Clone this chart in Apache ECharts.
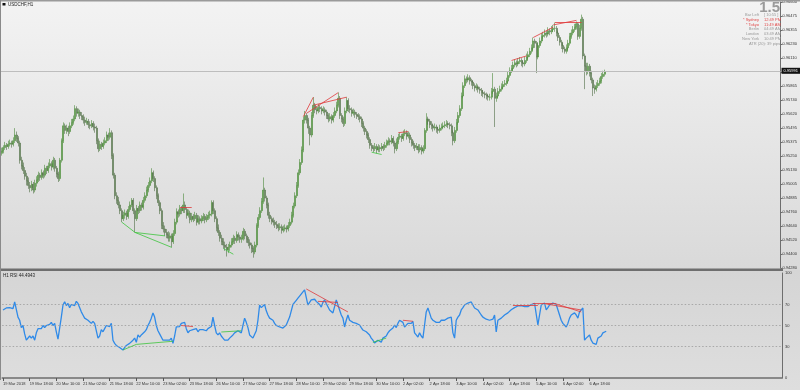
<!DOCTYPE html>
<html><head><meta charset="utf-8">
<script src="https://cdn.jsdelivr.net/npm/echarts@6/dist/echarts.min.js"></script>
<style>html,body{margin:0;padding:0;background:#e4e4e4}#c{width:800px;height:390px}</style>
</head><body><div id="c"></div><script>
const symbolName = 'USDCHF,H1';
const rsiName = 'H1 RSI 44.4943';
const spreadText = '1.5';
const infoRows = [['Bar Left','[ 10:55 ]'],['* Sydney','12:49 PM'],['* Tokyo','11:49 AM'],['Berlin','04:49 AM'],['London','03:49 AM'],['New York','10:49 PM']];
const atrText = 'ATR (20): 39 pips';
const currentPrice = 0.95991;
const firstOpen = 0.9528;
const closes = [
0.9530,0.9533,0.9535,0.9534,0.9536,0.9537,0.9536,0.9539,0.9544,0.9541,
0.9537,0.9522,0.9517,0.9513,0.9508,0.9504,0.9500,0.9498,0.9501,0.9496,
0.9502,0.9505,0.9509,0.9507,0.9511,0.9509,0.9515,0.9513,0.9517,0.9519,
0.9516,0.9522,0.9515,0.9510,0.9506,0.9522,0.9539,0.9552,0.9548,0.9550,
0.9547,0.9552,0.9555,0.9558,0.9567,0.9563,0.9564,0.9561,0.9560,0.9557,
0.9555,0.9556,0.9553,0.9552,0.9554,0.9551,0.9550,0.9539,0.9532,0.9536,
0.9534,0.9537,0.9539,0.9544,0.9542,0.9546,0.9526,0.9509,0.9491,0.9487,
0.9483,0.9478,0.9471,0.9474,0.9476,0.9473,0.9479,0.9483,0.9487,0.9478,
0.9471,0.9480,0.9478,0.9483,0.9481,0.9487,0.9491,0.9496,0.9500,0.9504,
0.9511,0.9506,0.9498,0.9491,0.9485,0.9478,0.9465,0.9462,0.9459,0.9457,
0.9454,0.9456,0.9451,0.9458,0.9468,0.9477,0.9475,0.9480,0.9478,0.9483,
0.9479,0.9474,0.9476,0.9470,0.9473,0.9471,0.9474,0.9468,0.9471,0.9469,
0.9471,0.9473,0.9470,0.9472,0.9474,0.9475,0.9485,0.9478,0.9471,0.9463,
0.9459,0.9454,0.9451,0.9448,0.9446,0.9444,0.9446,0.9448,0.9451,0.9454,
0.9452,0.9457,0.9455,0.9453,0.9454,0.9460,0.9456,0.9453,0.9450,0.9448,
0.9445,0.9442,0.9448,0.9465,0.9472,0.9478,0.9486,0.9496,0.9489,0.9483,
0.9474,0.9471,0.9469,0.9468,0.9466,0.9465,0.9463,0.9464,0.9461,0.9462,
0.9463,0.9462,0.9465,0.9468,0.9474,0.9482,0.9491,0.9500,0.9511,0.9520,
0.9531,0.9557,0.9561,0.9557,0.9550,0.9544,0.9561,0.9570,0.9566,0.9565,
0.9568,0.9567,0.9565,0.9566,0.9564,0.9561,0.9558,0.9560,0.9557,0.9561,
0.9565,0.9570,0.9576,0.9561,0.9558,0.9554,0.9565,0.9574,0.9567,0.9566,
0.9563,0.9564,0.9562,0.9561,0.9560,0.9558,0.9554,0.9550,0.9547,0.9544,
0.9540,0.9535,0.9533,0.9532,0.9534,0.9531,0.9533,0.9532,0.9534,0.9533,
0.9535,0.9537,0.9539,0.9538,0.9541,0.9537,0.9532,0.9538,0.9542,0.9543,
0.9541,0.9545,0.9546,0.9543,0.9544,0.9540,0.9537,0.9535,0.9533,0.9534,
0.9531,0.9533,0.9530,0.9532,0.9548,0.9558,0.9556,0.9553,0.9552,0.9550,
0.9551,0.9549,0.9548,0.9550,0.9551,0.9552,0.9553,0.9554,0.9553,0.9552,
0.9546,0.9539,0.9548,0.9555,0.9561,0.9567,0.9578,0.9587,0.9593,0.9592,
0.9594,0.9591,0.9590,0.9587,0.9585,0.9586,0.9584,0.9583,0.9581,0.9580,
0.9579,0.9578,0.9577,0.9577,0.9582,0.9584,0.9576,0.9578,0.9582,0.9584,
0.9586,0.9588,0.9589,0.9591,0.9596,0.9600,0.9602,0.9605,0.9607,0.9606,
0.9608,0.9609,0.9607,0.9606,0.9609,0.9612,0.9614,0.9617,0.9620,0.9626,
0.9624,0.9612,0.9622,0.9626,0.9630,0.9631,0.9633,0.9632,0.9635,0.9634,
0.9636,0.9637,0.9637,0.9633,0.9629,0.9625,0.9622,0.9619,0.9617,0.9620,
0.9624,0.9630,0.9633,0.9636,0.9638,0.9641,0.9630,0.9637,0.9645,0.9613,
0.9604,0.9600,0.9604,0.9598,0.9592,0.9585,0.9584,0.9587,0.9589,0.9591,
0.9595,0.9597,0.9599];
const highs = [
0.9533,0.9535,0.9538,0.9537,0.9539,0.9540,0.9539,0.9542,0.9550,0.9547,
0.9543,0.9539,0.9525,0.9520,0.9516,0.9511,0.9507,0.9503,0.9504,0.9503,
0.9505,0.9508,0.9512,0.9511,0.9514,0.9513,0.9518,0.9517,0.9520,0.9523,
0.9521,0.9525,0.9524,0.9517,0.9512,0.9524,0.9541,0.9555,0.9554,0.9553,
0.9552,0.9555,0.9558,0.9561,0.9570,0.9569,0.9567,0.9566,0.9564,0.9562,
0.9560,0.9559,0.9558,0.9556,0.9557,0.9556,0.9554,0.9552,0.9541,0.9539,
0.9538,0.9540,0.9542,0.9547,0.9546,0.9550,0.9548,0.9528,0.9511,0.9494,
0.9490,0.9486,0.9480,0.9477,0.9479,0.9478,0.9482,0.9486,0.9489,0.9489,
0.9480,0.9483,0.9482,0.9486,0.9485,0.9490,0.9494,0.9499,0.9503,0.9507,
0.9515,0.9513,0.9508,0.9500,0.9493,0.9487,0.9480,0.9468,0.9465,0.9462,
0.9460,0.9459,0.9458,0.9461,0.9471,0.9480,0.9479,0.9483,0.9482,0.9493,
0.9486,0.9481,0.9479,0.9478,0.9476,0.9475,0.9477,0.9476,0.9474,0.9473,
0.9474,0.9476,0.9475,0.9475,0.9477,0.9478,0.9487,0.9487,0.9480,0.9473,
0.9466,0.9461,0.9457,0.9454,0.9451,0.9449,0.9449,0.9451,0.9454,0.9457,
0.9456,0.9460,0.9459,0.9457,0.9457,0.9463,0.9462,0.9458,0.9455,0.9453,
0.9450,0.9447,0.9451,0.9467,0.9475,0.9481,0.9489,0.9507,0.9498,0.9491,
0.9485,0.9477,0.9473,0.9472,0.9470,0.9469,0.9467,0.9467,0.9466,0.9465,
0.9466,0.9465,0.9468,0.9471,0.9477,0.9485,0.9494,0.9503,0.9514,0.9523,
0.9534,0.9560,0.9565,0.9563,0.9559,0.9552,0.9564,0.9577,0.9572,0.9569,
0.9571,0.9570,0.9569,0.9569,0.9568,0.9566,0.9563,0.9563,0.9562,0.9564,
0.9568,0.9573,0.9581,0.9578,0.9563,0.9560,0.9568,0.9577,0.9576,0.9570,
0.9568,0.9567,0.9566,0.9564,0.9563,0.9562,0.9560,0.9556,0.9552,0.9549,
0.9546,0.9542,0.9537,0.9535,0.9537,0.9536,0.9536,0.9535,0.9537,0.9536,
0.9538,0.9540,0.9542,0.9541,0.9544,0.9543,0.9539,0.9541,0.9545,0.9546,
0.9545,0.9548,0.9549,0.9548,0.9547,0.9546,0.9542,0.9539,0.9537,0.9537,
0.9536,0.9536,0.9535,0.9535,0.9550,0.9563,0.9560,0.9558,0.9556,0.9554,
0.9554,0.9553,0.9551,0.9553,0.9554,0.9555,0.9556,0.9557,0.9556,0.9555,
0.9554,0.9548,0.9551,0.9558,0.9564,0.9570,0.9581,0.9590,0.9596,0.9595,
0.9597,0.9596,0.9593,0.9592,0.9589,0.9589,0.9588,0.9586,0.9585,0.9583,
0.9582,0.9581,0.9580,0.9580,0.9585,0.9598,0.9586,0.9581,0.9585,0.9587,
0.9589,0.9591,0.9592,0.9594,0.9599,0.9603,0.9605,0.9608,0.9610,0.9609,
0.9611,0.9612,0.9611,0.9609,0.9612,0.9615,0.9617,0.9620,0.9623,0.9629,
0.9628,0.9626,0.9625,0.9629,0.9633,0.9634,0.9636,0.9635,0.9638,0.9637,
0.9639,0.9640,0.9642,0.9639,0.9635,0.9631,0.9627,0.9624,0.9621,0.9623,
0.9627,0.9633,0.9636,0.9639,0.9641,0.9643,0.9642,0.9640,0.9649,0.9647,
0.9615,0.9607,0.9607,0.9606,0.9600,0.9594,0.9588,0.9590,0.9592,0.9594,
0.9598,0.9600,0.9601];
const lows = [
0.9526,0.9528,0.9531,0.9531,0.9532,0.9534,0.9533,0.9534,0.9537,0.9538,
0.9534,0.9519,0.9514,0.9510,0.9505,0.9500,0.9497,0.9494,0.9495,0.9493,
0.9494,0.9499,0.9503,0.9504,0.9505,0.9506,0.9507,0.9510,0.9511,0.9515,
0.9513,0.9514,0.9512,0.9507,0.9503,0.9504,0.9520,0.9537,0.9545,0.9545,
0.9543,0.9545,0.9550,0.9553,0.9556,0.9560,0.9560,0.9558,0.9557,0.9554,
0.9552,0.9553,0.9550,0.9549,0.9550,0.9548,0.9546,0.9536,0.9529,0.9530,
0.9531,0.9532,0.9535,0.9537,0.9539,0.9540,0.9523,0.9506,0.9488,0.9484,
0.9480,0.9475,0.9468,0.9469,0.9471,0.9470,0.9471,0.9477,0.9481,0.9475,
0.9459,0.9469,0.9475,0.9476,0.9478,0.9479,0.9485,0.9489,0.9494,0.9498,
0.9502,0.9503,0.9495,0.9488,0.9482,0.9475,0.9462,0.9459,0.9456,0.9454,
0.9451,0.9451,0.9446,0.9449,0.9456,0.9466,0.9472,0.9473,0.9475,0.9476,
0.9476,0.9471,0.9472,0.9467,0.9468,0.9468,0.9469,0.9465,0.9466,0.9466,
0.9467,0.9469,0.9467,0.9468,0.9470,0.9471,0.9473,0.9475,0.9468,0.9460,
0.9456,0.9451,0.9448,0.9445,0.9443,0.9438,0.9441,0.9443,0.9446,0.9449,
0.9449,0.9450,0.9452,0.9450,0.9450,0.9452,0.9453,0.9450,0.9447,0.9445,
0.9441,0.9437,0.9440,0.9446,0.9463,0.9470,0.9476,0.9484,0.9486,0.9480,
0.9471,0.9468,0.9466,0.9465,0.9463,0.9462,0.9460,0.9461,0.9458,0.9459,
0.9460,0.9459,0.9460,0.9463,0.9466,0.9472,0.9480,0.9489,0.9498,0.9509,
0.9518,0.9529,0.9554,0.9554,0.9545,0.9535,0.9542,0.9559,0.9563,0.9562,
0.9563,0.9564,0.9562,0.9563,0.9561,0.9558,0.9555,0.9556,0.9554,0.9555,
0.9559,0.9563,0.9568,0.9558,0.9555,0.9551,0.9552,0.9563,0.9564,0.9563,
0.9560,0.9561,0.9559,0.9558,0.9557,0.9555,0.9551,0.9547,0.9544,0.9541,
0.9537,0.9532,0.9530,0.9529,0.9530,0.9528,0.9529,0.9529,0.9530,0.9530,
0.9531,0.9533,0.9535,0.9535,0.9536,0.9534,0.9528,0.9530,0.9536,0.9540,
0.9538,0.9539,0.9543,0.9540,0.9541,0.9537,0.9534,0.9532,0.9530,0.9531,
0.9528,0.9529,0.9527,0.9528,0.9530,0.9546,0.9553,0.9550,0.9549,0.9547,
0.9548,0.9546,0.9545,0.9546,0.9548,0.9549,0.9550,0.9551,0.9550,0.9549,
0.9543,0.9535,0.9537,0.9546,0.9553,0.9559,0.9565,0.9576,0.9585,0.9589,
0.9590,0.9588,0.9587,0.9584,0.9582,0.9583,0.9581,0.9580,0.9578,0.9577,
0.9576,0.9575,0.9574,0.9574,0.9575,0.9580,0.9551,0.9573,0.9576,0.9580,
0.9582,0.9584,0.9586,0.9587,0.9589,0.9594,0.9598,0.9600,0.9603,0.9603,
0.9604,0.9606,0.9604,0.9603,0.9604,0.9607,0.9610,0.9612,0.9615,0.9618,
0.9620,0.9598,0.9610,0.9620,0.9624,0.9628,0.9629,0.9629,0.9630,0.9631,
0.9632,0.9634,0.9634,0.9630,0.9626,0.9622,0.9619,0.9616,0.9615,0.9615,
0.9618,0.9622,0.9628,0.9631,0.9634,0.9636,0.9627,0.9628,0.9635,0.9610,
0.9584,0.9596,0.9597,0.9595,0.9589,0.9578,0.9580,0.9582,0.9585,0.9587,
0.9589,0.9593,0.9595];
const rsi = [
64.8,66,66.7,65.5,67,67.6,66,72.4,73.5,58,
55,48,50,42,36,37,40,38,40,36,
43,47,48,47,50,48,50,49,51,53,
50,52,44,37,36,58,69.5,72.5,69,71,
67,70,71,69,73,71,70,63,60,57,
56,55,54,52,54,52,53,38,40,46,
44,47,50,51,49,52,36,33,31,30,
29,28.6,26.7,29,31,30,33,34,36,38,
34,41,39,41,40,44,46,50,53,57,
62,58,50,45,42,41,36,37,36,37,
36,38,33,40,48.6,50,49,52,51,53,
47,43,45,44,46,45,47,44,46,45,
46,47,45,47,48,49,58,50,43,41,
43,40,38,36,37,36,38,39,41,43,
42,45,44,43,50,57,53,48,41,40,
38,38,45,55,69.5,67,67.6,70,64,60,
57,56,55,52,50,49,48.6,49,47.6,49,
50.5,52,58,64,70,72,74,76,78,79,
82,84,84.8,69.5,72,74.3,76,75,73,71.4,
70,67.6,72,74.3,71,69.5,64.8,63,62,68,
74.3,69.5,64.8,60,57,48.6,55,60,55,54,
53,52,52,51,50.5,48,45.7,45,44,43.8,
41,38,36,33.3,35,36,35,34,38,37,
40,43,45,44,47.6,50.5,48,52,55,54,
53,48.6,50,52,53,52,54,43,41,39,
43,40,38,50.5,62.9,66.7,62,57,55,54,
53,54,53,55,54,55,55,57,57.5,58,
43,38,55,58,60,64.8,67,69.5,71,71.4,
72,72.4,71,66.7,65,64.8,63,60,58,57,
56,57,55,55,56,60,43.8,55,56,57,
58,60,61,62,63,65,66.7,67,68,68.6,
68,69,69.5,68,67.6,68,69,70,70.5,71,
71.4,50.5,60,69.5,70,71.4,64.8,67,69.5,70,
71.4,71.4,70,65,60,55,52,50.5,48.6,52,
57,60,60,62,60,57,62.9,64,66.7,36,
38,39,41,36,33.3,31.4,32,38,39,40,
43,44,44.5];
const priceTicks = ['0.94280','0.94400','0.94520','0.94640','0.94760','0.94885','0.95005','0.95130','0.95250','0.95375','0.95495','0.95620','0.95740','0.95865','0.95985','0.96110','0.96230','0.96355','0.96475','0.96600'];
const priceMin = 0.9428, priceMax = 0.9660;
const timeTicks = ['19 Mar 2018','19 Mar 18:00','20 Mar 10:00','21 Mar 02:00','21 Mar 18:00','22 Mar 10:00','23 Mar 02:00','23 Mar 18:00','26 Mar 10:00','27 Mar 02:00','27 Mar 18:00','28 Mar 10:00','29 Mar 02:00','29 Mar 18:00','30 Mar 10:00','2 Apr 02:00','2 Apr 18:00','3 Apr 10:00','4 Apr 02:00','4 Apr 18:00','5 Apr 10:00','6 Apr 02:00','6 Apr 18:00'];
const barsPerLabel = 16;
const totalSlots = 468;
const rsiLevels = [70, 50, 30];
const rsiAxisLabels = [0, 30, 50, 70, 100];
// divergence segments: [barFrom, valueFrom, barTo, valueTo]
const priceDivRed = [[107,0.9481,114,0.9481],[181,0.9560,187,0.9577],[183,0.9563,202,0.9581],[187,0.9570,207,0.9577],[238,0.9546,244,0.9547],[306,0.9609,315,0.9613],[319,0.9629,331,0.9638],[331,0.9640,345,0.9644],[332,0.9642,348,0.9642]];
const priceDivGreen = [[72,0.9468,80,0.9459],[80,0.9459,98,0.9456],[80,0.9459,102,0.9446],[133,0.9445,139,0.9440],[222,0.9529,228,0.9527]];
const rsiDivRed = [[107,50,114,49],[182,84.8,207,62.9],[189,73,201,72],[240,55,246,54],[306,69.5,321,69.5],[318,71.4,332,71.4],[332,70.5,347,62.9],[326,70.5,347,64.8]];
const rsiDivGreen = [[72,26.7,80,32],[80,32,102,35],[131,43.8,143,45],[222,34,230,38]];

const cats = Array.from({length: totalSlots}, (_, i) => String(i));
const ohlc = closes.map((c, i) => {
  const o = i === 0 ? firstOpen : closes[i - 1];
  return [o, c, lows[i], highs[i]];
});
const step = (priceMax - priceMin) / (priceTicks.length - 1);
const seg = arr => arr.map(s => ({coords: [[s[0], s[1]], [s[2], s[3]]]}));

const chart = echarts.init(document.getElementById('c'), null, {renderer: 'canvas'});
const gridL = 1, gridR = 18;
const txt = (x, y, text, size, color, align) => ({type: 'text', x, y, z: 100, silent: true,
  style: {text, fontSize: size, fill: color, align: align || 'left', verticalAlign: 'middle', fontFamily: 'Liberation Sans, Arial, sans-serif'}});
const graphics = [
  {type: 'rect', z: -100, silent: true, shape: {x: 0, y: 0, width: 800, height: 270},
    style: {fill: new echarts.graphic.LinearGradient(0, 0, 0, 1, [{offset: 0, color: '#f3f3f3'}, {offset: 1, color: '#d9d9d9'}])}},
  {type: 'rect', z: -100, silent: true, shape: {x: 0, y: 270, width: 800, height: 120},
    style: {fill: new echarts.graphic.LinearGradient(0, 0, 0, 1, [{offset: 0, color: '#d5d5d5'}, {offset: 1, color: '#dedede'}])}},
  {type: 'rect', z: 50, silent: true, shape: {x: 0, y: 268.5, width: 783, height: 2.5}, style: {fill: '#6e6e6e'}},
  {type: 'rect', z: 50, silent: true, shape: {x: 0, y: 0, width: 800, height: 1.5}, style: {fill: '#9a9a9a'}},
  {type: 'rect', z: 50, silent: true, shape: {x: 0, y: 0, width: 1, height: 380}, style: {fill: '#8a8a8a'}},
  {type: 'rect', z: 100, silent: true, shape: {x: 2.5, y: 3, width: 3, height: 2.5}, style: {fill: '#111'}},
  txt(8, 4.5, symbolName, 4.5, '#222'),
  txt(3, 276, rsiName, 4.5, '#222'),
  {type: 'text', x: 780, y: 8, z: 100, silent: true, style: {text: spreadText, fontSize: 15, fontWeight: 'bold', fill: '#9a9a9a', align: 'right', verticalAlign: 'middle', fontFamily: 'Liberation Sans, Arial, sans-serif'}},
  txt(780, 43.5, atrText, 4, '#999', 'right')
];
const rowY = [15, 19.8, 24.5, 29.2, 34, 38.8];
infoRows.forEach((r, k) => {
  const col = r[0].startsWith('*') ? '#e04a4a' : '#9a9a9a';
  graphics.push(txt(759, rowY[k], r[0], 4, col, 'right'));
  graphics.push(txt(764, rowY[k], r[1], 4, col, 'left'));
});

const option = {
  animation: false,
  backgroundColor: 'transparent',
  graphic: graphics,
  grid: [
    {left: gridL, right: gridR, top: 1.5, height: 266.5},
    {left: gridL, right: gridR, top: 273, height: 105}
  ],
  xAxis: [
    {type: 'category', gridIndex: 0, data: cats, boundaryGap: true, axisLine: {show: false}, axisTick: {show: false}, axisLabel: {show: false}, splitLine: {show: false}},
    {type: 'category', gridIndex: 1, data: cats, boundaryGap: true,
      axisLine: {show: true, lineStyle: {color: '#6e6e6e', width: 1.5}},
      axisTick: {show: true, length: 3, lineStyle: {color: '#555'}, interval: (i) => i % barsPerLabel === 0 && i / barsPerLabel < timeTicks.length, alignWithLabel: true},
      axisLabel: {show: true, fontSize: 4, color: '#333', align: 'left', margin: 4, fontFamily: 'Liberation Sans, Arial, sans-serif',
        interval: (i) => i % barsPerLabel === 0 && i / barsPerLabel < timeTicks.length,
        formatter: (v, i) => timeTicks[i / barsPerLabel] || ''},
      splitLine: {show: false}}
  ],
  yAxis: [
    {type: 'value', gridIndex: 0, position: 'right', min: priceMin, max: priceMax, interval: step, scale: true,
      axisLine: {show: true, onZero: false, lineStyle: {color: '#6e6e6e'}},
      axisTick: {show: true, length: 2, lineStyle: {color: '#6e6e6e'}},
      axisLabel: {fontSize: 4, color: '#333', margin: 2, fontFamily: 'Liberation Sans, Arial, sans-serif',
        formatter: v => priceTicks[Math.round((v - priceMin) / step)] || ''},
      splitLine: {show: false}},
    {type: 'value', gridIndex: 1, position: 'right', min: 0, max: 100, interval: 10,
      axisLine: {show: true, onZero: false, lineStyle: {color: '#6e6e6e'}},
      axisTick: {show: false},
      axisLabel: {fontSize: 4, color: '#333', margin: 3, fontFamily: 'Liberation Sans, Arial, sans-serif',
        formatter: v => rsiAxisLabels.indexOf(Math.round(v)) >= 0 ? String(Math.round(v)) : ''},
      splitLine: {show: false}}
  ],
  series: [
    {type: 'candlestick', xAxisIndex: 0, yAxisIndex: 0, data: ohlc, barWidth: 1.5, z: 3,
      itemStyle: {color: '#62a84a', color0: '#7f9a72', borderColor: '#4c8a3a', borderColor0: '#4f6d45', borderWidth: 0.6},
      markLine: {silent: true, symbol: 'none', animation: false,
        lineStyle: {color: '#bdbdbd', width: 1, type: 'solid'},
        label: {show: true, position: 'end', distance: 1, formatter: currentPrice.toFixed(5), fontSize: 4, color: '#fff', backgroundColor: '#111', padding: [1, 2]},
        data: [{yAxis: currentPrice}]}},
    {type: 'lines', coordinateSystem: 'cartesian2d', xAxisIndex: 0, yAxisIndex: 0, silent: true, z: 6,
      lineStyle: {color: '#e0383a', width: 0.8, opacity: 1}, data: seg(priceDivRed)},
    {type: 'lines', coordinateSystem: 'cartesian2d', xAxisIndex: 0, yAxisIndex: 0, silent: true, z: 6,
      lineStyle: {color: '#3cc43c', width: 0.8, opacity: 1}, data: seg(priceDivGreen)},
    {type: 'line', xAxisIndex: 1, yAxisIndex: 1, data: rsi, symbol: 'none', z: 4,
      lineStyle: {color: '#2f8ae8', width: 1.3},
      markLine: {silent: true, symbol: 'none', animation: false, label: {show: false},
        lineStyle: {color: '#9a9a9a', width: 0.8, type: [1.5, 2]},
        data: rsiLevels.map(v => ({yAxis: v}))}},
    {type: 'lines', coordinateSystem: 'cartesian2d', xAxisIndex: 1, yAxisIndex: 1, silent: true, z: 6,
      lineStyle: {color: '#e0383a', width: 0.8, opacity: 1}, data: seg(rsiDivRed)},
    {type: 'lines', coordinateSystem: 'cartesian2d', xAxisIndex: 1, yAxisIndex: 1, silent: true, z: 6,
      lineStyle: {color: '#3cc43c', width: 0.8, opacity: 1}, data: seg(rsiDivGreen)}
  ]
};
chart.setOption(option);
</script></body></html>
